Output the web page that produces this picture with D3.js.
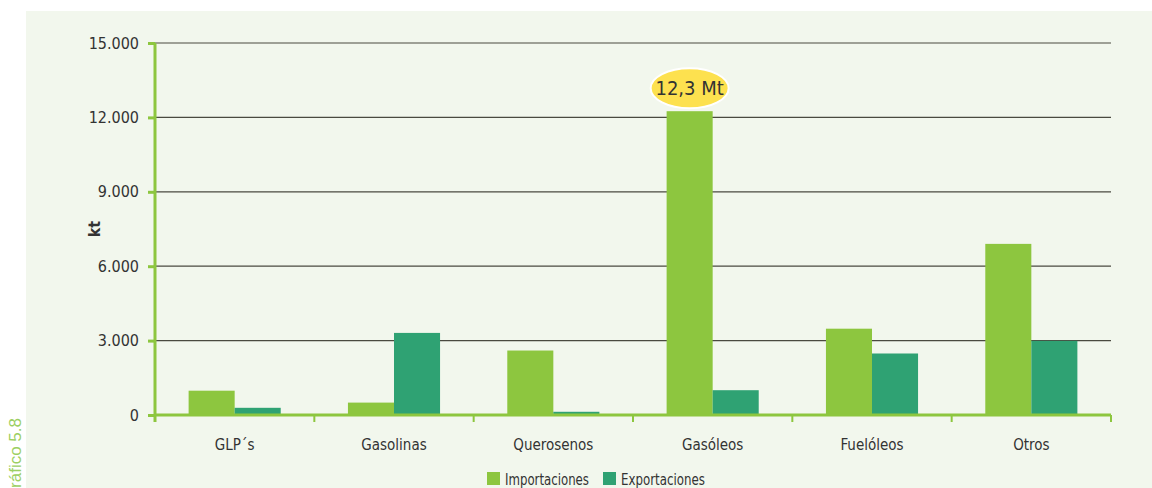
<!DOCTYPE html>
<html>
<head>
<meta charset="utf-8">
<script src="https://cdn.jsdelivr.net/npm/d3@7"></script>
<style>
  body { margin: 0; background: #fff; }
  svg text { font-family: "DejaVu Sans Condensed", "DejaVu Sans", sans-serif; font-stretch: condensed; fill: #333; }
</style>
</head>
<body>
<svg id="chart" width="1152" height="488"></svg>
<script>
const categories = ["GLP´s", "Gasolinas", "Querosenos", "Gasóleos", "Fuelóleos", "Otros"];
const series = ["Importaciones", "Exportaciones"];
const importaciones = [980, 500, 2600, 12250, 3480, 6900];
const exportaciones = [290, 3310, 130, 1000, 2480, 2990];
const yTicks = [0, 3000, 6000, 9000, 12000, 15000];
const colors = ["#8dc63f", "#2fa273"];

const svg = d3.select("#chart");
const margin = {left: 155, right: 41, top: 43, bottom: 73};
const W = 1152, H = 488;

// fondo
svg.append("rect").attr("x", 26).attr("y", 11).attr("width", W - 26).attr("height", H - 11)
    .attr("fill", "#f2f7ed");

const x = d3.scaleBand().domain(categories).range([margin.left, W - margin.right]).paddingInner(0).paddingOuter(0);
const x1 = d3.scaleBand().domain(series).range([0, x.bandwidth()]).paddingInner(0).paddingOuter(0.73);
const y = d3.scaleLinear().domain([0, 15000]).range([H - margin.bottom, margin.top]);

const fmt = d => d3.format(",")(d).replace(/,/g, ".");

// rejilla
svg.append("g").selectAll("line").data(yTicks.filter(d => d > 0)).enter().append("line")
    .attr("x1", margin.left).attr("x2", W - margin.right)
    .attr("y1", d => y(d)).attr("y2", d => y(d))
    .attr("stroke", "#4a4a40").attr("stroke-width", 1.2);

// barras
const rows = categories.map((c, i) => ({cat: c, vals: [importaciones[i], exportaciones[i]]}));
svg.append("g").selectAll("g").data(rows).enter().append("g")
    .attr("transform", d => "translate(" + x(d.cat) + ",0)")
  .selectAll("rect").data(d => d.vals.map((v, j) => ({s: series[j], v: v, j: j}))).enter().append("rect")
    .attr("x", d => x1(d.s)).attr("width", x1.bandwidth())
    .attr("y", d => y(d.v)).attr("height", d => y(0) - y(d.v))
    .attr("fill", d => colors[d.j]);

// eje y
const yAxis = svg.append("g").attr("transform", "translate(" + margin.left + ",0)")
    .call(d3.axisLeft(y).tickValues(yTicks).tickFormat(fmt).tickSize(7).tickPadding(9));
yAxis.select(".domain").attr("stroke", "#8dc63f").attr("stroke-width", 3)
    .attr("d", "M0," + (y(0) + 7) + "V" + y(15000));
yAxis.selectAll(".tick line").attr("stroke", "#8dc63f").attr("stroke-width", 3);
yAxis.selectAll(".tick text").attr("font-size", 16).attr("fill", "#333");

// eje x
const xAxis = svg.append("g").attr("transform", "translate(0," + y(0) + ")")
    .call(d3.axisBottom(x).tickSize(0).tickPadding(24));
xAxis.select(".domain").attr("stroke", "#8dc63f").attr("stroke-width", 3)
    .attr("d", "M" + margin.left + ",0H" + (W - margin.right));
xAxis.selectAll(".tick text").attr("font-size", 15).attr("fill", "#333");
const edges = categories.map(c => x(c)).concat([W - margin.right]);
xAxis.append("g").selectAll("line").data(edges).enter().append("line")
    .attr("x1", d => d).attr("x2", d => d).attr("y1", 0).attr("y2", 7)
    .attr("stroke", "#8dc63f").attr("stroke-width", 2);

// título eje y
svg.append("text").attr("transform", "translate(100,229) rotate(-90)")
    .attr("text-anchor", "middle").attr("font-size", 16).attr("font-weight", "bold").text("kt");

// etiqueta 12,3 Mt
const cx = x("Gasóleos") + x1("Importaciones") + x1.bandwidth() / 2;
svg.append("ellipse").attr("cx", cx).attr("cy", y(12250) - 23).attr("rx", 39).attr("ry", 20)
    .attr("fill", "#fde14f").attr("stroke", "#fff").attr("stroke-width", 2);
svg.append("text").attr("x", cx).attr("y", y(12250) - 16).attr("text-anchor", "middle")
    .attr("font-size", 20).attr("fill", "#222").text("12,3 Mt");

// leyenda
const leg = svg.append("g").selectAll("g").data(series).enter().append("g")
    .attr("transform", (d, i) => "translate(" + [487, 603][i] + ",472)");
leg.append("rect").attr("width", 13).attr("height", 13).attr("fill", (d, i) => colors[i]);
leg.append("text").attr("x", 18).attr("y", 13).attr("font-size", 15)
    .attr("textLength", 84).attr("lengthAdjust", "spacingAndGlyphs").text(d => d);

// Gráfico 5.8
svg.append("text").attr("transform", "translate(21,418) rotate(-90)")
    .attr("text-anchor", "end").attr("font-size", 17)
    .style("font-family", "'Liberation Sans', Arial, sans-serif").style("font-stretch", "normal")
    .style("fill", "#9ccf63")
    .text("Gráfico 5.8");
</script>
</body>
</html>
